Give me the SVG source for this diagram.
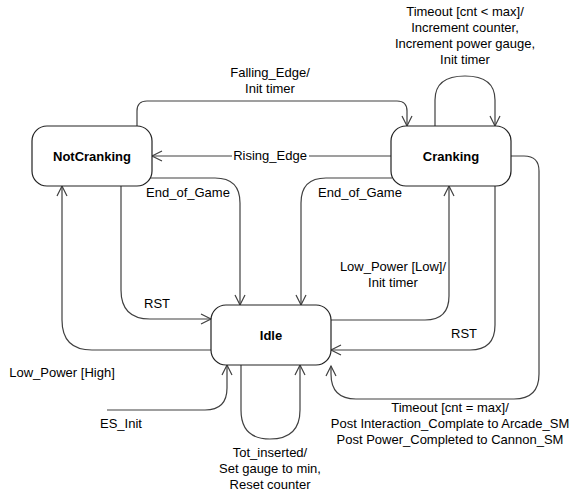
<svg xmlns="http://www.w3.org/2000/svg" width="580" height="500" viewBox="0 0 580 500">
<defs>
<marker id="arr" markerUnits="userSpaceOnUse" markerWidth="14" markerHeight="14" viewBox="-12 -7 14 14" refX="0" refY="0" orient="auto">
<path d="M-10,-5 L0,0 L-10,5" fill="none" stroke="#404040" stroke-width="1.2"/>
</marker>
</defs>
<style>
.st{fill:#fff;stroke:#222;stroke-width:1.2}
.nm{font-family:"Liberation Sans",Arial,sans-serif;font-size:13px;font-weight:bold;text-anchor:middle;fill:#000}
.c{fill:none;stroke:#404040;stroke-width:1.2;marker-end:url(#arr)}
.lb{font-family:"Liberation Sans",Arial,sans-serif;font-size:13px;text-anchor:middle;fill:#000}
</style>
<rect width="580" height="500" fill="#fff"/>
<g id="connectors">
<path class="c" d="M137,126 V111 Q137,101 147,101 H397 Q407,101 407,111 V126"/>
<path class="c" d="M435,126 V100 Q435,76 465,76 Q495,76 495,100 V126"/>
<path class="c" d="M391,156 H309 M232,156 H152"/>
<path class="c" d="M150,178 H215 Q240,178 240,203 V305"/>
<path class="c" d="M392,178 H326 Q301,178 301,203 V305"/>
<path class="c" d="M331,320 H425 Q449,320 449,296 V186"/>
<path class="c" d="M495,186 V325 Q495,350 470,350 H331"/>
<path class="c" d="M511,156 H524 Q539,156 539,171 V374 Q539,399 514,399 H356 Q331,399 331,374 V366"/>
<path class="c" d="M121,186 V290 Q121,319 150,319 H211"/>
<path class="c" d="M211,350 H92 Q62,350 62,320 V186"/>
<path class="c" d="M107,410 H205 Q227,410 227,388 V365"/>
<path class="c" d="M241,365 V410 Q241,439 270,439 Q300,439 300,410 V365"/>
<text class="lb" x="270" y="77">Falling_Edge/</text>
<text class="lb" x="270" y="93">Init timer</text>
<text class="lb" x="465" y="16">Timeout [cnt &lt; max]/</text>
<text class="lb" x="465" y="32">Increment counter,</text>
<text class="lb" x="465" y="48">Increment power gauge,</text>
<text class="lb" x="465" y="64">Init timer</text>
<text class="lb" x="270" y="160">Rising_Edge</text>
<text class="lb" x="188" y="197">End_of_Game</text>
<text class="lb" x="360" y="197">End_of_Game</text>
<text class="lb" x="393" y="271">Low_Power [Low]/</text>
<text class="lb" x="393" y="287">Init timer</text>
<text class="lb" x="464" y="338">RST</text>
<text class="lb" x="157" y="308">RST</text>
<text class="lb" x="62" y="377">Low_Power [High]</text>
<text class="lb" x="121" y="428">ES_Init</text>
<text class="lb" x="450" y="412">Timeout [cnt = max]/</text>
<text class="lb" x="450" y="428">Post Interaction_Complate to Arcade_SM</text>
<text class="lb" x="450" y="444">Post Power_Completed to Cannon_SM</text>
<text class="lb" x="270" y="457">Tot_inserted/</text>
<text class="lb" x="270" y="473">Set gauge to min,</text>
<text class="lb" x="270" y="489">Reset counter</text>
</g>
<g id="NotCranking">
<rect class="st" x="32" y="126" width="120" height="60" rx="15"/>
<text class="nm" x="92" y="161">NotCranking</text>
</g>
<g id="Cranking">
<rect class="st" x="391" y="126" width="120" height="60" rx="15"/>
<text class="nm" x="451" y="161">Cranking</text>
</g>
<g id="Idle">
<rect class="st" x="211" y="305" width="120" height="60" rx="15"/>
<text class="nm" x="271" y="340">Idle</text>
</g>
</svg>
